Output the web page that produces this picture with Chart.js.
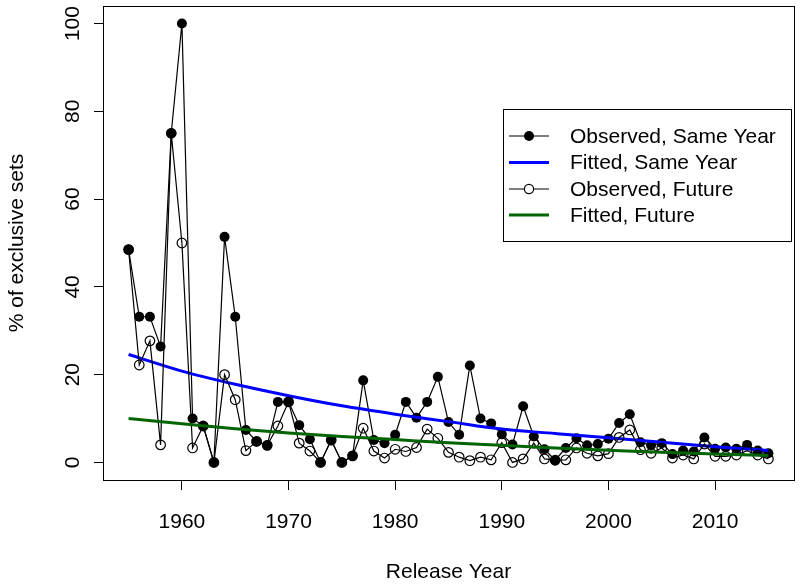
<!DOCTYPE html>
<html>
<head>
<meta charset="utf-8">
<script src="https://cdn.jsdelivr.net/npm/chart.js@4.4.1/dist/chart.umd.min.js"></script>
<style>
  html, body { margin: 0; padding: 0; background: #fff; }
</style>
</head>
<body>
<canvas id="exclusiveChart" width="800" height="585"></canvas>
<script>
const years = [1955, 1956, 1957, 1958, 1959, 1960, 1961, 1962, 1963, 1964,
    1965, 1966, 1967, 1968, 1969, 1970, 1971, 1972, 1973, 1974,
    1975, 1976, 1977, 1978, 1979, 1980, 1981, 1982, 1983, 1984,
    1985, 1986, 1987, 1988, 1989, 1990, 1991, 1992, 1993, 1994,
    1995, 1996, 1997, 1998, 1999, 2000, 2001, 2002, 2003, 2004,
    2005, 2006, 2007, 2008, 2009, 2010, 2011, 2012, 2013, 2014, 2015];

// observed % of exclusive sets, same year
const sameYear = [48.5, 33.2, 33.2, 26.4, 75, 100, 10.0, 8.3, 0, 51.4,
    33.2, 7.4, 4.8, 3.9, 13.8, 13.8, 8.5, 5.3, 0, 5.1,
    0, 1.5, 18.7, 5.1, 4.4, 6.3, 13.8, 10.2, 13.8, 19.5,
    9.2, 6.3, 22.1, 10.0, 8.9, 6.4, 4.1, 12.8, 5.9, 3.0,
    0.5, 3.3, 5.5, 3.9, 4.2, 5.4, 9.0, 11.0, 4.6, 3.9,
    4.4, 1.9, 2.7, 2.5, 5.7, 3.1, 3.4, 3.1, 4.0, 2.7, 2.1];

// observed % of exclusive sets, future
const future = [48.5, 22.2, 27.7, 4.0, 75, 50, 3.3, 8.3, 0, 20.0,
    14.3, 2.7, 4.8, 3.9, 8.3, 13.8, 4.4, 2.6, 0, 5.1,
    0, 1.5, 7.8, 2.6, 1.0, 3.0, 2.5, 3.4, 7.6, 5.5,
    2.3, 1.2, 0.4, 1.2, 0.6, 4.5, 0, 0.8, 4.4, 0.8,
    0.5, 0.6, 3.3, 2.1, 1.5, 2.0, 5.7, 7.4, 2.9, 2.1,
    3.3, 1.0, 1.7, 0.8, 4.2, 1.4, 1.4, 1.7, 2.7, 1.7, 0.8];

const fitYears = [1955, 1960, 1965, 1970, 1975, 1980, 1985, 1990, 1995, 2000, 2005, 2010, 2015];
const fitSameYear = [24.6, 20.8, 17.8, 15.2, 12.9, 11.0, 9.3, 7.6, 6.6, 5.6, 4.6, 3.6, 2.7];
const fitFuture = [10.0, 8.8, 7.7, 6.7, 5.9, 5.2, 4.5, 3.9, 3.3, 2.8, 2.3, 1.9, 1.6];

const xTicks = [1960, 1970, 1980, 1990, 2000, 2010];
const yTicks = [0, 20, 40, 60, 80, 100];

const legendLabels = ['Observed, Same Year', 'Fitted, Same Year', 'Observed, Future', 'Fitted, Future'];

const FONT = "'Liberation Sans', Arial, Helvetica, sans-serif";

function toPoints(xs, ys) {
    return xs.map((x, i) => ({ x: x, y: ys[i] }));
}

// box round the plot, rotated y labels and the R style legend
const rStyle = {
    id: 'rStyle',
    afterDraw(chart) {
        const { ctx, chartArea: a, scales: { y } } = chart;
        ctx.save();
        ctx.strokeStyle = '#000';
        ctx.lineWidth = 1;
        ctx.strokeRect(Math.round(a.left) + 0.5, Math.round(a.top) + 0.5,
            Math.round(a.right - a.left), Math.round(a.bottom - a.top));

        ctx.font = '21px ' + FONT;
        ctx.fillStyle = '#000';
        ctx.textAlign = 'center';
        ctx.textBaseline = 'middle';
        yTicks.forEach(v => {
            ctx.save();
            ctx.translate(73, y.getPixelForValue(v));
            ctx.rotate(-Math.PI / 2);
            ctx.fillText(String(v), 0, 0);
            ctx.restore();
        });

        // legend
        ctx.strokeRect(503.5, 109.5, 288, 132);
        const rows = [136, 162.5, 189, 215];
        const styles = [
            { color: '#000', width: 1.2, point: 'filled' },
            { color: '#0000ff', width: 3, point: null },
            { color: '#000', width: 1.2, point: 'open' },
            { color: '#006400', width: 3, point: null }
        ];
        rows.forEach((ry, i) => {
            const s = styles[i];
            ctx.strokeStyle = s.color;
            ctx.lineWidth = s.width;
            ctx.beginPath();
            ctx.moveTo(509, ry);
            ctx.lineTo(549, ry);
            ctx.stroke();
            if (s.point) {
                ctx.beginPath();
                ctx.arc(529, ry, s.point === 'filled' ? 5 : 4.6, 0, Math.PI * 2);
                if (s.point === 'filled') {
                    ctx.fillStyle = '#000';
                    ctx.fill();
                } else {
                    ctx.fillStyle = '#fff';
                    ctx.fill();
                    ctx.lineWidth = 1.2;
                    ctx.stroke();
                }
            }
            ctx.fillStyle = '#000';
            ctx.textAlign = 'left';
            ctx.fillText(legendLabels[i], 570, ry + 1);
        });
        ctx.restore();
    }
};

new Chart(document.getElementById('exclusiveChart'), {
    type: 'line',
    data: {
        datasets: [
            {
                label: legendLabels[0],
                data: toPoints(years, sameYear),
                borderColor: '#000',
                borderWidth: 1.2,
                pointRadius: 5,
                pointBackgroundColor: '#000',
                pointBorderColor: '#000',
                pointBorderWidth: 0,
                tension: 0,
                order: 4
            },
            {
                label: legendLabels[1],
                data: toPoints(fitYears, fitSameYear),
                borderColor: '#0000ff',
                borderWidth: 3,
                pointRadius: 0,
                cubicInterpolationMode: 'monotone',
                order: 3
            },
            {
                label: legendLabels[2],
                data: toPoints(years, future),
                borderColor: '#000',
                borderWidth: 1.2,
                pointRadius: 4.8,
                pointBackgroundColor: 'rgba(0,0,0,0)',
                pointBorderColor: '#000',
                pointBorderWidth: 1.2,
                tension: 0,
                order: 2
            },
            {
                label: legendLabels[3],
                data: toPoints(fitYears, fitFuture),
                borderColor: '#006400',
                borderWidth: 3,
                pointRadius: 0,
                cubicInterpolationMode: 'monotone',
                order: 1
            }
        ]
    },
    options: {
        responsive: false,
        animation: false,
        devicePixelRatio: 1,
        layout: { padding: { top: 3, right: 6, left: 0, bottom: 0 } },
        scales: {
            x: {
                type: 'linear',
                min: 1952.6,
                max: 2017.4,
                afterBuildTicks: s => { s.ticks = xTicks.map(v => ({ value: v })); },
                afterFit: s => { s.height = 105; },
                ticks: {
                    color: '#000',
                    font: { size: 21, family: FONT },
                    padding: 20,
                    maxRotation: 0,
                    callback: v => String(v)
                },
                grid: { drawOnChartArea: false, drawTicks: true, tickLength: 10, color: '#000', lineWidth: 1 },
                border: { display: false },
                title: {
                    display: true,
                    text: 'Release Year',
                    color: '#000',
                    font: { size: 21, family: FONT },
                    padding: { top: 0, bottom: 0 }
                }
            },
            y: {
                type: 'linear',
                min: -4,
                max: 104,
                afterBuildTicks: s => { s.ticks = yTicks.map(v => ({ value: v })); },
                afterFit: s => { s.width = 103; },
                ticks: { display: false },
                grid: { drawOnChartArea: false, drawTicks: true, tickLength: 9, color: '#000', lineWidth: 1 },
                border: { display: false },
                title: {
                    display: true,
                    text: '% of exclusive sets',
                    color: '#000',
                    font: { size: 21, family: FONT },
                    padding: { top: 5, bottom: 0 }
                }
            }
        },
        plugins: {
            legend: { display: false },
            tooltip: { enabled: false }
        }
    },
    plugins: [rStyle]
});
</script>
</body>
</html>
